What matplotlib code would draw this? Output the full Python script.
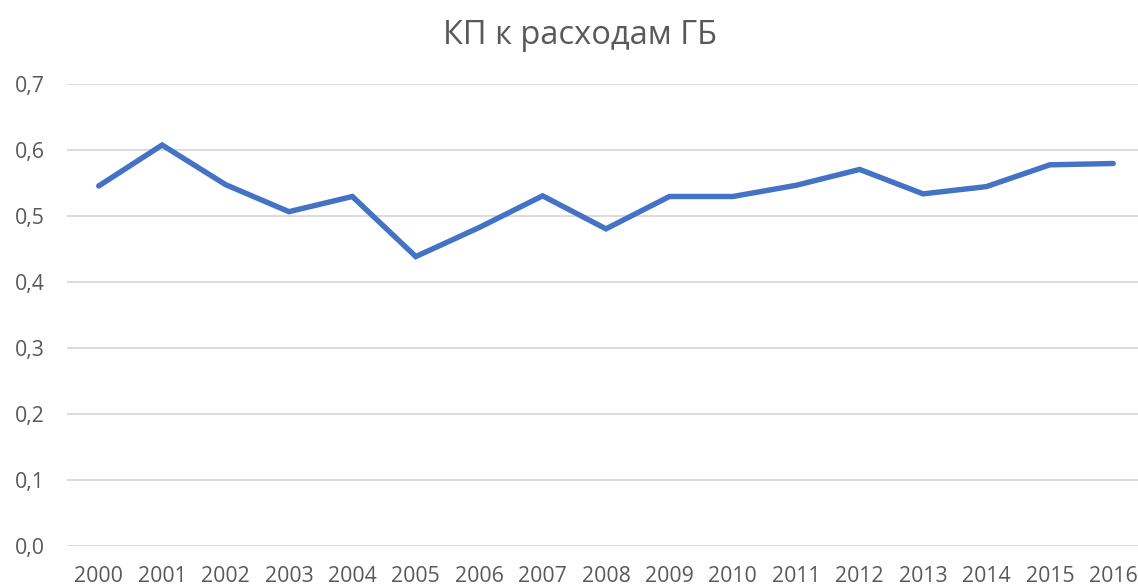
import matplotlib.pyplot as plt
from matplotlib.ticker import FuncFormatter

plt.rcParams['font.family'] = ['Open Sans', 'DejaVu Sans']

years = [str(y) for y in range(2000, 2017)]
values = [0.546, 0.608, 0.548, 0.507, 0.530, 0.439, 0.483, 0.531, 0.481,
          0.530, 0.530, 0.547, 0.571, 0.534, 0.545, 0.578, 0.580]

fig = plt.figure(figsize=(11.38, 5.87), dpi=100)
ax = fig.add_axes([0.0589, 0.0693, 0.9411, 0.7871])

x = list(range(len(years)))
ax.plot(x, values, color='#4472C4', linewidth=3.9, solid_capstyle='round', solid_joinstyle='miter')

ax.set_xlim(-0.5, 16.39)
ax.set_ylim(0, 0.7)
ax.set_yticks([i / 10 for i in range(8)])
ax.yaxis.set_major_formatter(FuncFormatter(lambda v, p: f"{v:.1f}".replace('.', ',')))
ax.set_xticks(x)
ax.set_xticklabels(years)

ax.grid(axis='y', color='#D9D9D9', linewidth=1.3)
ax.set_axisbelow(True)
for s in ax.spines.values():
    s.set_visible(False)
ax.tick_params(length=0, labelsize=15.3, labelcolor='#595959')
ax.tick_params(axis='y', pad=16)
ax.tick_params(axis='x', pad=14)

fig.text(0.51, 0.94, 'КП к расходам ГБ', ha='center', va='center', fontsize=23.5, color='#595959')

fig.savefig('out.png', dpi=100)
